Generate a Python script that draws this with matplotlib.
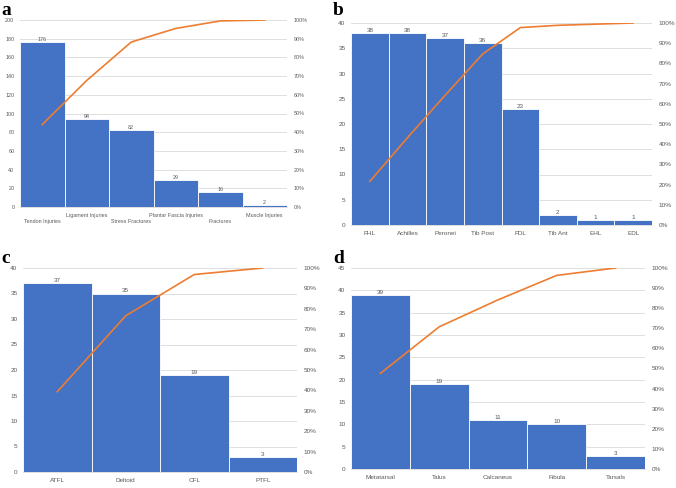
import numpy as np
import matplotlib.pyplot as plt
from matplotlib.ticker import PercentFormatter

# panel data
a_labels = ['Tendon Injuries', 'Ligament Injuries', 'Stress Fractures',
            'Plantar Fascia Injuries', 'Fractures', 'Muscle Injuries']
a_values = [176, 94, 82, 29, 16, 2]

b_labels = ['FHL', 'Achilles', 'Peronei', 'Tib Post', 'FDL', 'Tib Ant', 'EHL', 'EDL']
b_values = [38, 38, 37, 36, 23, 2, 1, 1]

c_labels = ['ATFL', 'Deltoid', 'CFL', 'PTFL']
c_values = [37, 35, 19, 3]

d_labels = ['Metatarsal', 'Talus', 'Calcaneus', 'Fibula', 'Tarsals']
d_values = [39, 19, 11, 10, 3]

BLUE = '#4472C4'
ORANGE = '#ED7D31'
GRID = '#D9D9D9'
TXT = '#595959'
FONT = ['Liberation Sans Narrow', 'Liberation Sans', 'DejaVu Sans']

W, H = 676, 488
fig = plt.figure(figsize=(W / 100, H / 100), dpi=100)


def px_axes(l, t, r, b):
    return fig.add_axes([l / W, 1 - b / H, (r - l) / W, (b - t) / H])


def pareto(box, labels, values, ymax, ystep, fs=4.6, stagger=False):
    ax = px_axes(*box)
    x = np.arange(len(values))
    ax.bar(x, values, width=1.0, color=BLUE, edgecolor='white', linewidth=0.6, zorder=2)
    for xi, v in zip(x, values):
        ax.text(xi, v, str(v), ha='center', va='bottom', fontsize=fs,
                color=TXT, family=FONT)
    ax.set_xlim(-0.5, len(values) - 0.5)
    ax.set_ylim(0, ymax)
    ax.set_yticks(np.arange(0, ymax + 0.01, ystep))
    ax.yaxis.grid(True, color=GRID, linewidth=0.6, zorder=0)
    ax.set_axisbelow(True)
    for s in ['top', 'left', 'right']:
        ax.spines[s].set_visible(False)
    ax.spines['bottom'].set_color(GRID)
    ax.spines['bottom'].set_linewidth(0.6)
    ax.set_xticks(x)
    if stagger:
        ticklabels = [('\n' + l) if i % 2 == 0 else l for i, l in enumerate(labels)]
    else:
        ticklabels = labels
    ax.set_xticklabels(ticklabels, fontsize=fs, color=TXT, family=FONT,
                       linespacing=1.3)
    ax.tick_params(axis='both', length=0, pad=4)
    for t in ax.get_yticklabels():
        t.set_fontsize(fs)
        t.set_color(TXT)
        t.set_family(FONT)

    ax2 = ax.twinx()
    cum = np.cumsum(values) / np.sum(values)
    ax2.plot(x, cum, color=ORANGE, linewidth=1.2, zorder=3)
    ax2.set_ylim(0, 1)
    ax2.set_yticks(np.arange(0, 1.01, 0.1))
    ax2.yaxis.set_major_formatter(PercentFormatter(1.0, decimals=0))
    for s in ax2.spines.values():
        s.set_visible(False)
    ax2.tick_params(axis='y', length=0, pad=5)
    for t in ax2.get_yticklabels():
        t.set_fontsize(fs)
        t.set_color(TXT)
        t.set_family(FONT)
    return ax


pareto((20, 20, 287, 207), a_labels, a_values, 200, 20, fs=3.9, stagger=True)
pareto((351, 23, 652, 225), b_labels, b_values, 40, 5)
pareto((23, 268, 297, 472), c_labels, c_values, 40, 5)
pareto((351, 268, 645, 469), d_labels, d_values, 45, 5)

for letter, (px, py) in zip('abcd', [(1, 15), (333, 15), (1, 263), (333, 263)]):
    fig.text(px / W, 1 - py / H, letter, fontsize=14, fontweight='bold',
             family=['Liberation Serif', 'DejaVu Serif'], ha='left', va='baseline')

fig.savefig('out.png', dpi=100)
